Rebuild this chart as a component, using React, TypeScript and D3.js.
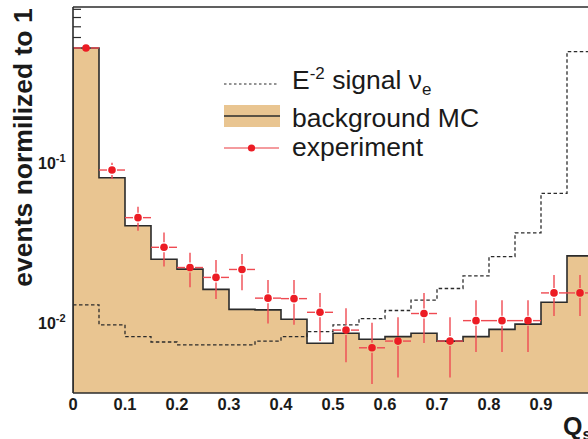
import React from "react";
import * as d3 from "d3";

const binWidth = 0.05;
const binStarts = [0, 0.05, 0.1, 0.15, 0.2, 0.25, 0.3, 0.35, 0.4, 0.45, 0.5, 0.55, 0.6, 0.65, 0.7, 0.75, 0.8, 0.85, 0.9, 0.95];
const background = [0.516, 0.0798, 0.04, 0.0247, 0.0214, 0.016, 0.012, 0.0119, 0.0104, 0.00736, 0.0085, 0.0078, 0.0081, 0.0085, 0.0076, 0.0081, 0.009, 0.0097, 0.0133, 0.0259];
const signal = [0.0128, 0.0096, 0.0081, 0.0075, 0.0072, 0.0072, 0.0072, 0.0076, 0.0081, 0.0087, 0.0096, 0.0105, 0.0118, 0.0137, 0.0162, 0.0194, 0.0256, 0.0361, 0.0637, 0.49];
const experiment = [0.516, 0.0891, 0.0449, 0.0293, 0.0219, 0.019, 0.0213, 0.0141, 0.014, 0.0115, 0.0089, 0.0069, 0.0076, 0.0113, 0.0076, 0.0102, 0.0102, 0.0102, 0.0152, 0.0152];
const expHigh = [0.516, 0.099, 0.0526, 0.0362, 0.0271, 0.0244, 0.0266, 0.0183, 0.0183, 0.0152, 0.0122, 0.0099, 0.0107, 0.0152, 0.0107, 0.0137, 0.0137, 0.0137, 0.0197, 0.0197];
const expLow = [0.516, 0.0783, 0.0372, 0.0222, 0.0165, 0.0139, 0.0158, 0.0098, 0.0096, 0.0076, 0.0056, 0.0041, 0.0045, 0.0074, 0.0045, 0.0065, 0.0065, 0.0065, 0.0109, 0.0109];
const xTicks = [0, 0.1, 0.2, 0.3, 0.4, 0.5, 0.6, 0.7, 0.8, 0.9];
const xTickLabels = ["0", "0.1", "0.2", "0.3", "0.4", "0.5", "0.6", "0.7", "0.8", "0.9"];
const yMajor = [0.01, 0.1];
const yMajorExp = ["-2", "-1"];
const legendLabels = ["signal", "background MC", "experiment"];

const W = 588;
const H = 439;
const L = 73, T = 7, B = 393, R = 593;

const FILL = "#e9c591";
const RED = "#ec1c24";
const ERR = "#ef4a52";
const LINE = "#2b2b2b";

export default function App() {
  const x = d3.scaleLinear().domain([0, 1]).range([L, R]);
  const y = d3.scaleLog().domain([0.0036, 0.9306]).range([B, T]);

  const stepPts = (vals: number[]) => {
    const pts: [number, number][] = binStarts.map((s, i) => [s, vals[i]]);
    pts.push([binStarts[binStarts.length - 1] + binWidth, vals[vals.length - 1]]);
    return pts;
  };

  const area = d3
    .area<[number, number]>()
    .x((d) => x(d[0]))
    .y0(B)
    .y1((d) => y(d[1]))
    .curve(d3.curveStepAfter);
  const line = d3
    .line<[number, number]>()
    .x((d) => x(d[0]))
    .y((d) => y(d[1]))
    .curve(d3.curveStepAfter);

  const bgPts = stepPts(background);
  const sigPts = stepPts(signal);
  const bgOutline =
    `M${x(0)},${B}L${x(0)},${y(background[0])}` + (line(bgPts) || "").replace(/^M/, "L");

  const minorTicks = y.ticks().filter((t) => !yMajor.some((m) => Math.abs(m - t) < 1e-9));
  const r = 3.8;

  return (
    <svg
      width={W}
      height={H}
      style={{ position: "absolute", left: 0, top: 0, background: "#fff" }}
      fontFamily="'Liberation Sans', Arial, Helvetica, sans-serif"
    >
      <defs>
        <clipPath id="plotclip">
          <rect x={L} y={T} width={R - L} height={B - T} />
        </clipPath>
      </defs>

      {/* y ticks (drawn under the fill) */}
      {minorTicks.map((t, i) => (
        <line key={"mt" + i} x1={L} x2={L + 8} y1={y(t)} y2={y(t)} stroke={LINE} strokeWidth={1.2} />
      ))}
      {yMajor.map((t, i) => (
        <line key={"Mt" + i} x1={L} x2={L + 16} y1={y(t)} y2={y(t)} stroke={LINE} strokeWidth={1.2} />
      ))}

      <g clipPath="url(#plotclip)">
        <path d={area(bgPts) || ""} fill={FILL} />
        <path d={bgOutline} fill="none" stroke={LINE} strokeWidth={1.6} />
        <path
          d={`M${x(0)},${y(signal[0])}` + (line(sigPts) || "").replace(/^M/, "L")}
          fill="none"
          stroke={LINE}
          strokeWidth={1.3}
          strokeDasharray="3.5,2.5"
        />
        {experiment.map((v, i) => {
          const cx = x(binStarts[i] + binWidth / 2);
          const cy = y(v);
          const xl = x(binStarts[i]);
          const xr = x(binStarts[i] + binWidth);
          const yt = y(expHigh[i]);
          const yb = y(expLow[i]);
          const g = r + 1.2;
          return (
            <g key={"e" + i}>
              <line x1={xl} x2={cx - g} y1={cy} y2={cy} stroke={ERR} strokeWidth={1.4} />
              <line x1={cx + g} x2={xr} y1={cy} y2={cy} stroke={ERR} strokeWidth={1.4} />
              {cy - yt > g && <line x1={cx} x2={cx} y1={yt} y2={cy - g} stroke={ERR} strokeWidth={1.4} />}
              {yb - cy > g && <line x1={cx} x2={cx} y1={cy + g} y2={yb} stroke={ERR} strokeWidth={1.4} />}
              <circle cx={cx} cy={cy} r={r} fill={RED} />
            </g>
          );
        })}
      </g>

      {/* frame */}
      <line x1={L} x2={L} y1={T} y2={B} stroke={LINE} strokeWidth={1.6} />
      <line x1={L} x2={R} y1={T} y2={T} stroke={LINE} strokeWidth={1.6} />
      <line x1={L} x2={R} y1={B} y2={B} stroke={LINE} strokeWidth={1.6} />

      {/* x tick labels */}
      {xTicks.map((t, i) => (
        <text key={"xl" + i} x={x(t)} y={409.5} textAnchor="middle" fontSize={16.5} fontWeight="bold" fill="#1a1a1a">
          {xTickLabels[i]}
        </text>
      ))}

      {/* y tick labels */}
      {yMajor.map((t, i) => (
        <text key={"yl" + i} x={38} y={y(t) + 6.5} fontSize={16} fontWeight="bold" fill="#1a1a1a">
          10
          <tspan fontSize={11} dy={-6.5}>
            {yMajorExp[i]}
          </tspan>
        </text>
      ))}

      {/* axis titles */}
      <text
        transform={`translate(32,${147.5}) rotate(-90)`}
        textAnchor="middle"
        fontSize={26.5}
        fontWeight="bold"
        fill="#1a1a1a"
      >
        events normilized to 1
      </text>
      <text x={563} y={435} fontSize={25} fontWeight="bold" fill="#1a1a1a">
        Q
        <tspan fontSize={16} dy={5}>
          s
        </tspan>
      </text>

      {/* legend */}
      <line x1={224} x2={279} y1={84} y2={84} stroke={LINE} strokeWidth={1.2} strokeDasharray="2.5,2.5" />
      <text x={292} y={89} fontSize={26.5} fill="#1a1a1a">
        E
        <tspan fontSize={17} dy={-10}>
          -2
        </tspan>
        <tspan dy={10}> {legendLabels[0]} ν</tspan>
        <tspan fontSize={17} dy={6}>
          e
        </tspan>
      </text>
      <rect x={224} y={105} width={56} height={22} fill={FILL} />
      <line x1={224} x2={280} y1={116} y2={116} stroke={LINE} strokeWidth={1.4} />
      <text x={292} y={127} fontSize={26.5} fill="#1a1a1a">
        {legendLabels[1]}
      </text>
      <line x1={224} x2={279} y1={148} y2={148} stroke="#f07a7e" strokeWidth={1.5} />
      <circle cx={251.5} cy={148} r={3.6} fill={RED} />
      <text x={292} y={156} fontSize={26.5} fill="#1a1a1a">
        {legendLabels[2]}
      </text>
    </svg>
  );
}
